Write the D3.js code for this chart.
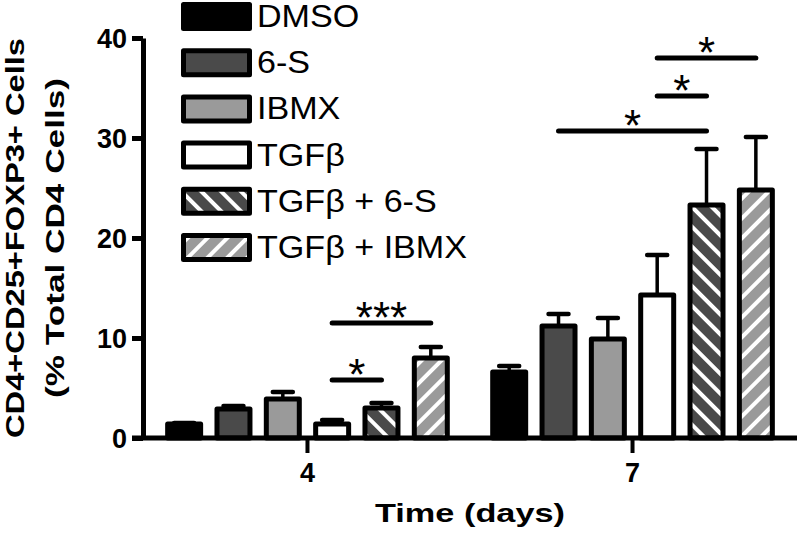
<!DOCTYPE html>
<html>
<head>
<meta charset="utf-8">
<script src="https://cdn.jsdelivr.net/npm/d3@7"></script>
<style>
  body { margin: 0; background: #fff; }
  svg { display: block; font-family: "Liberation Sans", Arial, sans-serif; }
</style>
</head>
<body>
<svg id="chart" width="800" height="536"></svg>
<script>
// values
const days = ["4", "7"];
const series = ["DMSO", "6-S", "IBMX", "TGFβ", "TGFβ + 6-S", "TGFβ + IBMX"];
const day4Means = [1.4, 2.9, 3.9, 1.4, 3.0, 8.0];
const day4Errors = [0.1, 0.3, 0.7, 0.4, 0.5, 1.1];
const day7Means = [6.6, 11.2, 9.9, 14.3, 23.3, 24.8];
const day7Errors = [0.6, 1.2, 2.1, 4.0, 5.6, 5.3];
const yTicks = [0, 10, 20, 30, 40];

// significance brackets
const sigDay = ["4", "4", "7", "7", "7"];
const sigFrom = ["TGFβ", "TGFβ", "6-S", "TGFβ", "TGFβ"];
const sigTo = ["TGFβ + 6-S", "TGFβ + IBMX", "TGFβ + 6-S", "TGFβ + 6-S", "TGFβ + IBMX"];
const sigLevel = [5.8, 11.5, 30.7, 34.2, 38.0];
const sigLabel = ["*", "***", "*", "*", "*"];

const fills = {
  "DMSO": "#000",
  "6-S": "#4a4a4a",
  "IBMX": "#9a9a9a",
  "TGFβ": "#fff",
  "TGFβ + 6-S": "url(#hatchDark)",
  "TGFβ + IBMX": "url(#hatchLight)"
};

const svg = d3.select("#chart");
const plotLeft = 143, plotRight = 797, plotTop = 38, plotBottom = 438;

const y = d3.scaleLinear().domain([0, 40]).range([plotBottom, plotTop]);
const xGroup = d3.scaleBand().domain(days).range([plotLeft, plotRight])
  .paddingInner(0.1).paddingOuter(0.056);
const xInner = d3.scaleBand().domain(series).range([0, xGroup.bandwidth()])
  .paddingInner(0.23).paddingOuter(0.08);
const bw = xInner.bandwidth();
const cx = (day, s) => xGroup(day) + xInner(s) + bw / 2;

// hatch patterns
const defs = svg.append("defs");
function hatch(id, color, angle) {
  let p = defs.append("pattern")
    .attr("id", id)
    .attr("patternUnits", "userSpaceOnUse")
    .attr("width", 14).attr("height", 14)
    .attr("patternTransform", "rotate(" + angle + ")");
  p.append("rect").attr("width", 14).attr("height", 14).attr("fill", color);
  p.append("rect").attr("x", 5).attr("width", 4).attr("height", 14).attr("fill", "#fff");
}
hatch("hatchDark", "#4a4a4a", -45);
hatch("hatchLight", "#9a9a9a", 45);

const rows = [];
days.forEach(function (day, di) {
  let means = di === 0 ? day4Means : day7Means;
  let errs = di === 0 ? day4Errors : day7Errors;
  series.forEach(function (s, i) {
    rows.push({ day: day, s: s, v: means[i], e: errs[i] });
  });
});

// error bars (under the bars)
let eb = svg.append("g").attr("stroke", "#000");
eb.selectAll(".err")
  .data(rows)
  .enter().append("line")
  .attr("x1", d => cx(d.day, d.s)).attr("x2", d => cx(d.day, d.s))
  .attr("y1", d => y(d.v)).attr("y2", d => y(d.v + d.e))
  .attr("stroke-width", 3.5);
eb.selectAll(".cap")
  .data(rows)
  .enter().append("line")
  .attr("x1", d => cx(d.day, d.s) - 10).attr("x2", d => cx(d.day, d.s) + 10)
  .attr("y1", d => y(d.v + d.e)).attr("y2", d => y(d.v + d.e))
  .attr("stroke-width", 4.5)
  .attr("stroke-linecap", "round");

// bars
svg.append("g").selectAll("rect")
  .data(rows)
  .enter().append("rect")
  .attr("x", d => xGroup(d.day) + xInner(d.s) + 2.5)
  .attr("y", d => y(d.v))
  .attr("width", bw - 5)
  .attr("height", d => y(0) - y(d.v))
  .attr("fill", d => fills[d.s])
  .attr("stroke", "#000")
  .attr("stroke-width", 5)
  .attr("stroke-linejoin", "round");

// y axis
let yAxis = svg.append("g")
  .attr("transform", "translate(" + plotLeft + ",0)")
  .call(d3.axisLeft(y).tickValues(yTicks).tickSize(11).tickSizeOuter(0).tickPadding(5));
yAxis.select(".domain").attr("stroke-width", 5);
yAxis.selectAll(".tick line").attr("stroke-width", 5);
yAxis.selectAll(".tick text")
  .attr("font-size", 27).attr("font-weight", "bold")
  .attr("font-family", "Liberation Sans, Arial, sans-serif")
  .attr("dy", "0.34em").attr("fill", "#000");

// x axis
svg.append("line")
  .attr("x1", plotLeft - 11).attr("x2", plotRight)
  .attr("y1", y(0)).attr("y2", y(0))
  .attr("stroke", "#000").attr("stroke-width", 5);
let xAxis = svg.append("g")
  .attr("transform", "translate(0," + y(0) + ")")
  .call(d3.axisBottom(xGroup).tickSize(15).tickSizeOuter(0).tickPadding(10));
xAxis.select(".domain").remove();
xAxis.selectAll(".tick line").attr("stroke-width", 4);
xAxis.selectAll(".tick text")
  .attr("font-size", 27).attr("font-weight", "bold")
  .attr("font-family", "Liberation Sans, Arial, sans-serif")
  .attr("fill", "#000");

// significance lines
const sig = sigDay.map((d, i) => ({ day: d, a: sigFrom[i], b: sigTo[i], v: sigLevel[i], t: sigLabel[i] }));
let sg = svg.append("g");
sg.selectAll("line")
  .data(sig)
  .enter().append("line")
  .attr("x1", d => cx(d.day, d.a)).attr("x2", d => cx(d.day, d.b))
  .attr("y1", d => y(d.v)).attr("y2", d => y(d.v))
  .attr("stroke", "#000").attr("stroke-width", 5).attr("stroke-linecap", "round");
sg.selectAll("text")
  .data(sig)
  .enter().append("text")
  .attr("x", d => (cx(d.day, d.a) + cx(d.day, d.b)) / 2)
  .attr("y", d => y(d.v) + 9.5)
  .attr("text-anchor", "middle")
  .attr("font-size", 44)
  .text(d => d.t);

// legend
const ly = d3.scalePoint().domain(series).range([2, 233]);
let lg = svg.append("g");
lg.selectAll("rect")
  .data(series)
  .enter().append("rect")
  .attr("x", 183.5).attr("y", d => ly(d) + 2.5)
  .attr("width", 66).attr("height", 24)
  .attr("fill", d => fills[d])
  .attr("stroke", "#000").attr("stroke-width", 5)
  .attr("stroke-linejoin", "round");
lg.selectAll("text")
  .data(series)
  .enter().append("text")
  .attr("transform", d => "translate(257," + (ly(d) + 25) + ") scale(1.1,1)")
  .attr("font-size", 31)
  .text(d => d);

// axis titles
svg.append("text")
  .attr("transform", "translate(24,238) rotate(-90)")
  .attr("text-anchor", "middle")
  .attr("font-size", 25).attr("font-weight", "bold")
  .attr("textLength", 400).attr("lengthAdjust", "spacingAndGlyphs")
  .text("CD4+CD25+FOXP3+ Cells");
svg.append("text")
  .attr("transform", "translate(64,238) rotate(-90)")
  .attr("text-anchor", "middle")
  .attr("font-size", 25).attr("font-weight", "bold")
  .attr("textLength", 320).attr("lengthAdjust", "spacingAndGlyphs")
  .text("(% Total CD4 Cells)");
svg.append("text")
  .attr("x", 470).attr("y", 522)
  .attr("text-anchor", "middle")
  .attr("font-size", 25).attr("font-weight", "bold")
  .attr("textLength", 190).attr("lengthAdjust", "spacingAndGlyphs")
  .text("Time (days)");
</script>
</body>
</html>
